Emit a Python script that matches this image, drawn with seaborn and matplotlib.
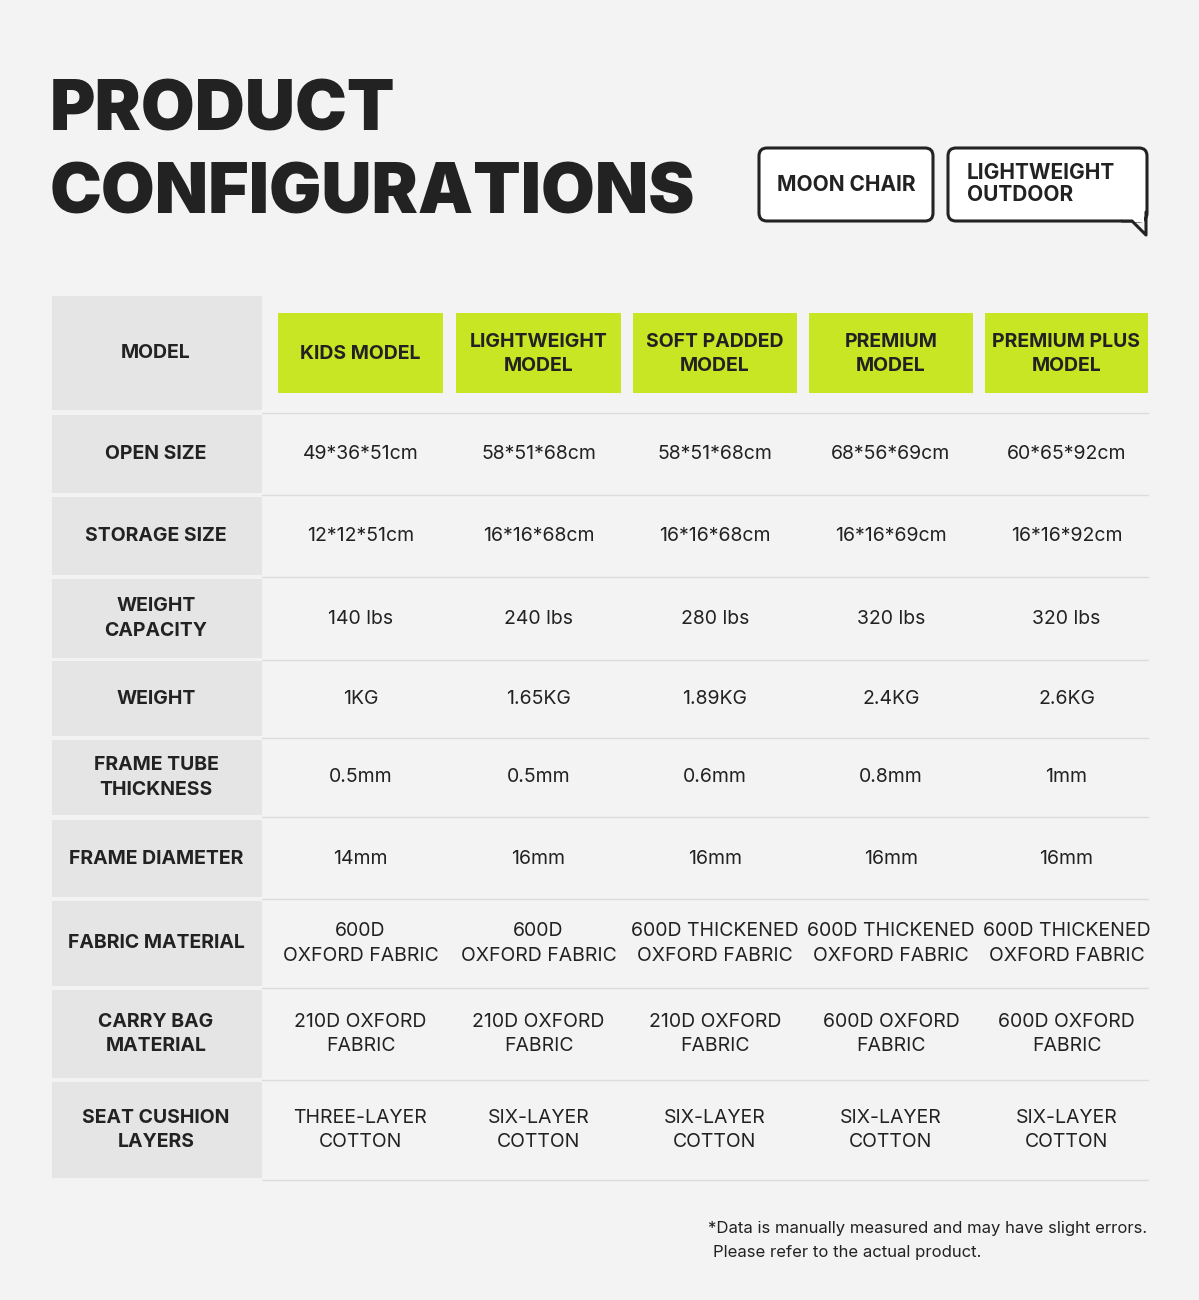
import matplotlib
matplotlib.use("Agg")
import matplotlib.pyplot as plt
import seaborn as sns
from matplotlib.patches import Rectangle, FancyBboxPatch, Polygon

sns.set_theme(style="white")
plt.rcParams['font.family'] = ['Inter', 'DejaVu Sans']

models = ["KIDS MODEL", "LIGHTWEIGHT\nMODEL", "SOFT PADDED\nMODEL", "PREMIUM\nMODEL", "PREMIUM PLUS\nMODEL"]
row_labels = ["OPEN SIZE", "STORAGE SIZE", "WEIGHT\nCAPACITY", "WEIGHT", "FRAME TUBE\nTHICKNESS",
              "FRAME DIAMETER", "FABRIC MATERIAL", "CARRY BAG\nMATERIAL", "SEAT CUSHION\nLAYERS"]
open_size = ["49*36*51cm", "58*51*68cm", "58*51*68cm", "68*56*69cm", "60*65*92cm"]
storage_size = ["12*12*51cm", "16*16*68cm", "16*16*68cm", "16*16*69cm", "16*16*92cm"]
capacity = ["140 lbs", "240 lbs", "280 lbs", "320 lbs", "320 lbs"]
weight = ["1KG", "1.65KG", "1.89KG", "2.4KG", "2.6KG"]
tube = ["0.5mm", "0.5mm", "0.6mm", "0.8mm", "1mm"]
diameter = ["14mm", "16mm", "16mm", "16mm", "16mm"]
fabric = ["600D\nOXFORD FABRIC", "600D\nOXFORD FABRIC", "600D THICKENED\nOXFORD FABRIC",
          "600D THICKENED\nOXFORD FABRIC", "600D THICKENED\nOXFORD FABRIC"]
bag = ["210D OXFORD\nFABRIC", "210D OXFORD\nFABRIC", "210D OXFORD\nFABRIC", "600D OXFORD\nFABRIC", "600D OXFORD\nFABRIC"]
cushion = ["THREE-LAYER\nCOTTON", "SIX-LAYER\nCOTTON", "SIX-LAYER\nCOTTON", "SIX-LAYER\nCOTTON", "SIX-LAYER\nCOTTON"]
rows = [open_size, storage_size, capacity, weight, tube, diameter, fabric, bag, cushion]

# layout in pixels
row_edges = [(415, 493), (497, 575), (579, 658), (661, 736), (740, 815), (820, 897), (901, 986), (990, 1078), (1082, 1178)]
col_edges = [(278, 443), (456, 621), (633, 797), (809, 973), (985, 1148)]

bg = "#f3f3f3"
fig = plt.figure(figsize=(11.99, 13.0), dpi=100, facecolor=bg)
ax = fig.add_axes([0, 0, 1, 1])
ax.set_xlim(0, 1199)
ax.set_ylim(1300, 0)
ax.axis("off")
ax.set_facecolor(bg)

dark = "#222222"
ax.text(50, 112, "PRODUCT", fontsize=50, fontweight="black", color=dark, va="center", ha="left")
ax.text(50, 195, "CONFIGURATIONS", fontsize=50, fontweight="black", color=dark, va="center", ha="left")

# badges
ax.add_patch(FancyBboxPatch((759, 148), 174, 73, boxstyle="round,pad=0,rounding_size=8",
                            fc="white", ec=dark, lw=2.2))
ax.text(846, 185, "MOON CHAIR", fontsize=15, fontweight="bold", color=dark, ha="center", va="center")
ax.add_patch(FancyBboxPatch((948, 148), 199, 73, boxstyle="round,pad=0,rounding_size=8",
                            fc="white", ec=dark, lw=2.2))
ax.add_patch(Rectangle((1122, 216), 22, 6, fc="white", ec="none", zorder=3))
ax.plot([1122, 1132, 1146, 1146], [221, 221, 235, 212], color=dark, lw=2.2, zorder=4,
        solid_capstyle="round")
ax.text(967, 184, "LIGHTWEIGHT\nOUTDOOR", fontsize=15, fontweight="bold", color=dark, ha="left", va="center",
        linespacing=1.1)

# first column
ax.add_patch(Rectangle((52, 296), 210, 114, fc="#e5e5e5", ec="none"))
ax.text(156, 353, "MODEL", fontsize=14, fontweight="bold", color=dark, ha="center", va="center")
for (y0, y1), lab in zip(row_edges, row_labels):
    ax.add_patch(Rectangle((52, y0), 210, y1 - y0, fc="#e5e5e5", ec="none"))
    ax.text(156, (y0 + y1) / 2, lab, fontsize=14, fontweight="bold", color=dark, ha="center", va="center",
            linespacing=1.45)
    ax.plot([262, 1148], [y1 + 2, y1 + 2], color="#dcdcdc", lw=1)
ax.plot([262, 1148], [413, 413], color="#dcdcdc", lw=1)

# header
for (x0, x1), m in zip(col_edges, models):
    ax.add_patch(Rectangle((x0, 313), x1 - x0, 80, fc="#c8e623", ec="none"))
    ax.text((x0 + x1) / 2, 354, m, fontsize=14, fontweight="bold", color=dark, ha="center", va="center",
            linespacing=1.4)

# values
for (y0, y1), vals in zip(row_edges, rows):
    for (x0, x1), v in zip(col_edges, vals):
        ax.text((x0 + x1) / 2, (y0 + y1) / 2, v, fontsize=14, color=dark, ha="center", va="center",
                linespacing=1.45)

ax.text(1147, 1229, "*Data is manually measured and may have slight errors.", fontsize=12, color=dark,
        ha="right", va="center")
ax.text(713, 1252, "Please refer to the actual product.", fontsize=12, color=dark, ha="left", va="center")

fig.savefig("out.png", dpi=100, facecolor=bg)
